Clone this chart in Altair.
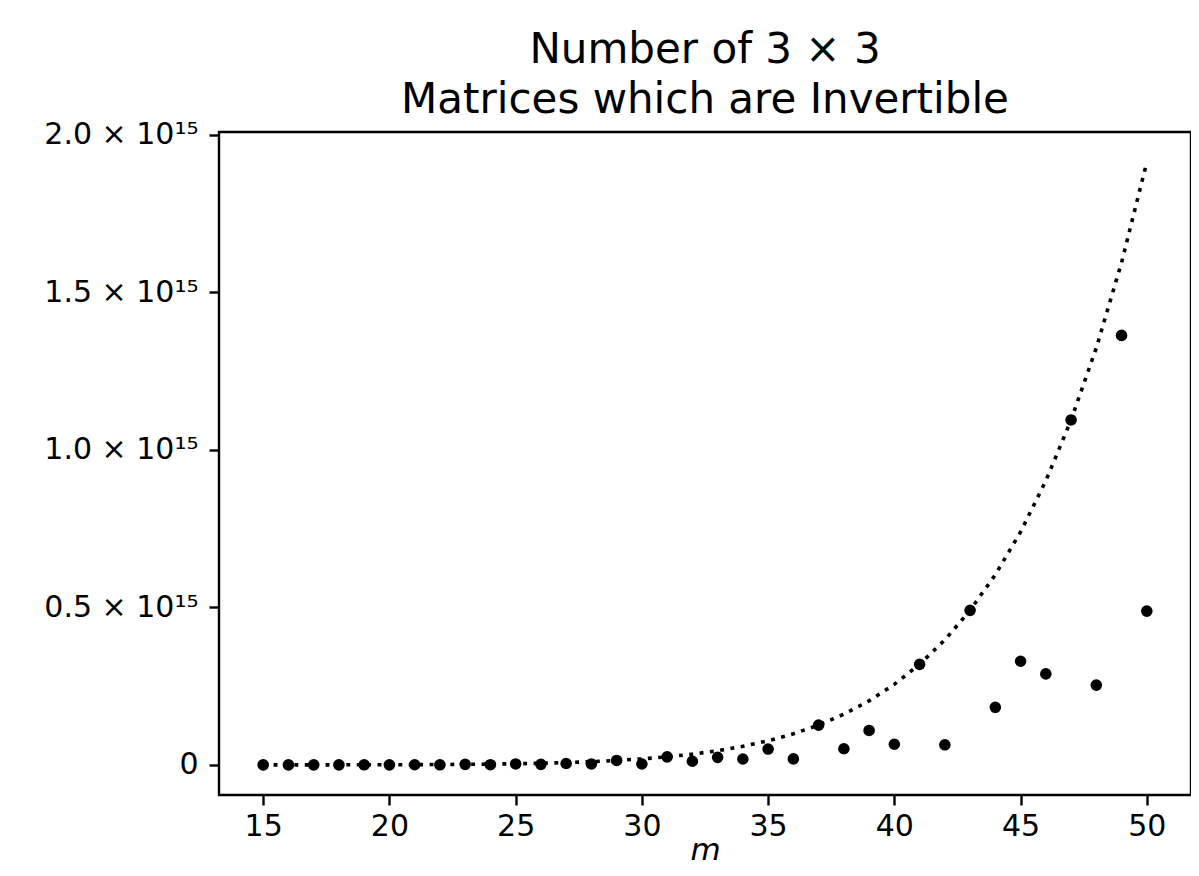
import altair as alt
import pandas as pd

# m values
m_values = list(range(15, 51))

# number of invertible 3x3 matrices mod m (dots)
invertible_counts = [
    1.6713e10, 2.2549e10, 1.1121e11, 3.7141e10, 3.0482e11, 1.2799e11,
    3.7946e11, 3.5688e11, 1.7194e12, 4.9466e11, 2.9063e12, 1.6341e12,
    4.3515e12, 2.9060e12, 1.3990e13, 2.8078e12, 2.5560e13, 1.1545e13,
    2.3860e13, 1.8683e13, 5.0271e13, 1.9016e13, 1.2635e14, 5.1209e13,
    1.0925e14, 6.5531e13, 3.1920e14, 6.3749e13, 4.9063e14, 1.8272e14,
    3.2896e14, 2.8887e14, 1.0948e15, 2.5326e14, 1.3633e15, 4.8824e14,
]

# dotted reference curve (prime-modulus count)
curve_values = [
    3.571e10, 6.4155e10, 1.1120e11, 1.8672e11, 3.0481e11, 4.8512e11,
    7.5465e11, 1.1499e12, 1.7194e12, 2.5271e12, 3.6560e12, 5.2127e12,
    7.3327e12, 1.0187e13, 1.3990e13, 1.9005e13, 2.5560e13, 3.4050e13,
    4.4963e13, 5.8878e13, 7.6499e13, 9.8661e13, 1.2635e14, 1.6075e14,
    2.0324e14, 2.5543e14, 3.1920e14, 3.9675e14, 4.9063e14, 6.0376e14,
    7.3950e14, 9.0171e14, 1.0948e15, 1.3238e15, 1.5945e15, 1.9133e15,
]

x_ticks = [15, 20, 25, 30, 35, 40, 45, 50]
y_ticks = [0, 0.5e15, 1.0e15, 1.5e15, 2.0e15]
title_lines = ["Number of 3 × 3", "Matrices which are Invertible"]

dots = pd.DataFrame({"m": m_values, "count": invertible_counts})
curve = pd.DataFrame({"m": m_values, "count": curve_values})

FONT = "DejaVu Sans"

x_scale = alt.Scale(domain=[13.25, 51.75], nice=False, zero=False)
y_scale = alt.Scale(domain=[-0.0956e15, 2.0089e15], nice=False, zero=False)

x_enc = alt.X(
    "m:Q",
    scale=x_scale,
    axis=alt.Axis(
        values=x_ticks,
        format="d",
        title="m",
        titleFont=FONT,
        titleFontStyle="italic",
        titleFontWeight="normal",
        titleFontSize=31,
        titleColor="black",
        titlePadding=-6,
    ),
)
y_enc = alt.Y(
    "count:Q",
    scale=y_scale,
    axis=alt.Axis(
        values=y_ticks,
        title=None,
        labelExpr="datum.value == 0 ? '0' : format(datum.value / 1e15, '.1f') + ' × 10¹⁵'",
    ),
)

line = alt.Chart(curve).mark_line(
    color="black", strokeWidth=3.6, strokeDash=[3.9, 6.5], strokeCap="butt"
).encode(x=x_enc, y=y_enc)

points = alt.Chart(dots).mark_circle(
    color="black", opacity=1, size=135
).encode(x=x_enc, y=y_enc)

chart = (
    alt.layer(line, points)
    .properties(
        width=972,
        height=663,
        autosize=alt.AutoSizeParams(type="none"),
        padding={"left": 211, "top": 124, "right": 0, "bottom": 72},
        background="white",
        title=alt.TitleParams(
            text=title_lines,
            font=FONT,
            fontSize=42,
            fontWeight="normal",
            color="black",
            anchor="middle",
            lineHeight=50,
            offset=-2,
        ),
    )
    .configure_view(stroke="black", strokeWidth=2.4)
    .configure_axis(
        domain=False,
        grid=False,
        ticks=True,
        tickColor="black",
        tickSize=10,
        tickWidth=2.4,
        labelFont=FONT,
        labelFontSize=30,
        labelColor="black",
        labelPadding=6,
    )
    .configure_axisY(labelPadding=11)
)

chart.save("out.html", embed_options={"renderer": "svg", "actions": False})
